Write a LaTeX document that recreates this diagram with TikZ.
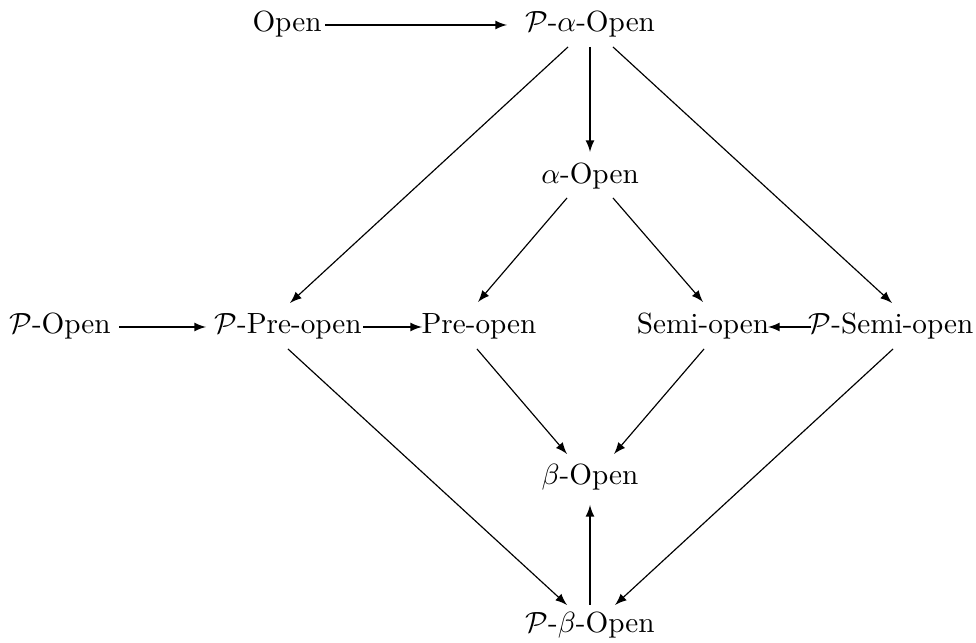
\documentclass[tikz,border=0pt]{standalone}
\usetikzlibrary{calc}
\begin{document}
\begin{tikzpicture}[x=0.3425pt,y=-0.3425pt,>=latex,
  lbl/.style={anchor=base,inner sep=0pt},
  conn/.style={->}]
\useasboundingbox (0,0) rectangle (976,643);
\node[lbl] (Open)  at (287,32)  {Open};
\node[lbl] (Pa)    at (590,32)  {$\mathcal{P}$-$\alpha$-Open};
\node[lbl] (aO)    at (590,184) {$\alpha$-Open};
\node[lbl] (POpen) at (60,334)  {$\mathcal{P}$-Open};
\node[lbl] (PPre)  at (288,334) {$\mathcal{P}$-Pre-open};
\node[lbl] (Pre)   at (479,334) {Pre-open};
\node[lbl] (Semi)  at (703,334) {Semi-open};
\node[lbl] (PSemi) at (891,334) {$\mathcal{P}$-Semi-open};
\node[lbl] (bO)    at (590,485) {$\beta$-Open};
\node[lbl] (Pb)    at (590,633) {$\mathcal{P}$-$\beta$-Open};

\draw[conn] ($(Open.base)+(38,-7)$) -- ($(Pa.base)+(-83,-7)$);
\draw[conn] ($(Pa.base)+(0,15)$) -- ($(aO.base)+(0,-32)$);
\draw[conn] ($(Pa.base)+(-22,15)$) -- ($(PPre.base)+(2,-31)$);
\draw[conn] ($(Pa.base)+(23,15)$) -- ($(PSemi.base)+(1,-31)$);
\draw[conn] ($(aO.base)+(-23,14)$) -- ($(Pre.base)+(-1,-32)$);
\draw[conn] ($(aO.base)+(23,14)$) -- ($(Semi.base)+(0,-32)$);
\draw[conn] ($(POpen.base)+(59,-7)$) -- ($(PPre.base)+(-82,-7)$);
\draw[conn] ($(PPre.base)+(75,-7)$) -- ($(Pre.base)+(-57,-7)$);
\draw[conn] ($(PSemi.base)+(-80,-7)$) -- ($(Semi.base)+(65,-7)$);
\draw[conn] ($(Pre.base)+(-2,15)$) -- ($(bO.base)+(-23,-31)$);
\draw[conn] ($(Semi.base)+(1,15)$) -- ($(bO.base)+(24,-31)$);
\draw[conn] ($(PPre.base)+(0,15)$) -- ($(Pb.base)+(-23,-28)$);
\draw[conn] ($(PSemi.base)+(2,15)$) -- ($(Pb.base)+(25,-28)$);
\draw[conn] ($(Pb.base)+(0,-28)$) -- ($(bO.base)+(0,20)$);
\end{tikzpicture}
\end{document}
